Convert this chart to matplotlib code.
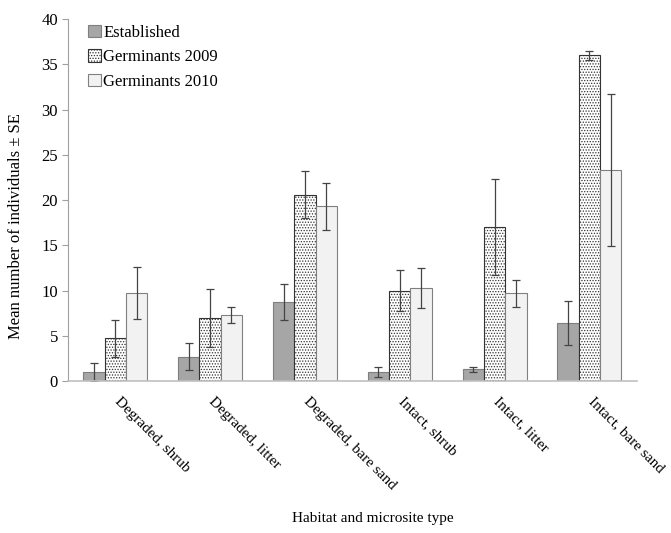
import numpy as np
import matplotlib.pyplot as plt
from matplotlib import transforms

plt.rcParams['font.family'] = ['Liberation Serif', 'DejaVu Serif']
plt.rcParams['hatch.linewidth'] = 0.6

sites = ["Degraded, shrub", "Degraded, litter", "Degraded, bare sand",
         "Intact, shrub", "Intact, litter", "Intact, bare sand"]
established = [1.0, 2.7, 8.7, 1.0, 1.3, 6.4]
established_se = [1.0, 1.45, 2.0, 0.6, 0.3, 2.4]
germ2009 = [4.7, 7.0, 20.6, 10.0, 17.0, 36.0]
germ2009_se = [2.0, 3.2, 2.6, 2.3, 5.3, 0.5]
germ2010 = [9.7, 7.3, 19.3, 10.3, 9.7, 23.3]
germ2010_se = [2.85, 0.9, 2.6, 2.2, 1.5, 8.4]

fig = plt.figure(figsize=(6.71, 5.33), dpi=100)
ax = fig.add_axes([0.101, 0.2852, 0.848, 0.679])

x = np.arange(len(sites))
w = 0.225
err_kw = dict(ecolor='#444444', elinewidth=0.9, capsize=3, capthick=0.9)

ax.bar(x - w, established, w, yerr=established_se, color='#a6a6a6',
       edgecolor='#7f7f7f', linewidth=0.8, label='Established', error_kw=err_kw)
ax.bar(x, germ2009, w, yerr=germ2009_se, color='white', edgecolor='#333333',
       hatch='......', linewidth=0.8, label='Germinants 2009', error_kw=err_kw)
ax.bar(x + w, germ2010, w, yerr=germ2010_se, color='#f2f2f2',
       edgecolor='#808080', linewidth=0.8, label='Germinants 2010', error_kw=err_kw)

ax.set_xlim(-0.5, len(sites) - 0.5)
ax.set_ylim(0, 40)
ax.set_yticks(range(0, 41, 5))
ax.set_xticks([])
ax.tick_params(axis='y', labelsize=12, length=4, color='#a0a0a0', width=0.8, pad=3)
for s in ['top', 'right']:
    ax.spines[s].set_visible(False)
ax.spines['left'].set_color('#a0a0a0')
ax.spines['bottom'].set_color('#c0c0c0')
ax.spines['bottom'].set_linewidth(1.2)

# rotated category labels, as in the spreadsheet original
trans = transforms.blended_transform_factory(ax.transData, ax.transAxes)
for i, s in enumerate(sites):
    ax.text(i + 0.01, -0.05, s, transform=trans, rotation=-45,
            rotation_mode='anchor', ha='left', va='center', fontsize=11)

fig.text(0.024, 0.576, "Mean number of individuals \u00b1 SE", rotation=90,
         ha='center', va='center', fontsize=12)
fig.text(0.556, 0.02, "Habitat and microsite type", ha='center', fontsize=11)

ax.legend(loc='upper left', bbox_to_anchor=(0.01, 1.025), frameon=False,
          fontsize=12, handlelength=0.75, handleheight=0.75, handletextpad=0.15,
          labelspacing=0.5)

fig.savefig('out.png', dpi=100)
